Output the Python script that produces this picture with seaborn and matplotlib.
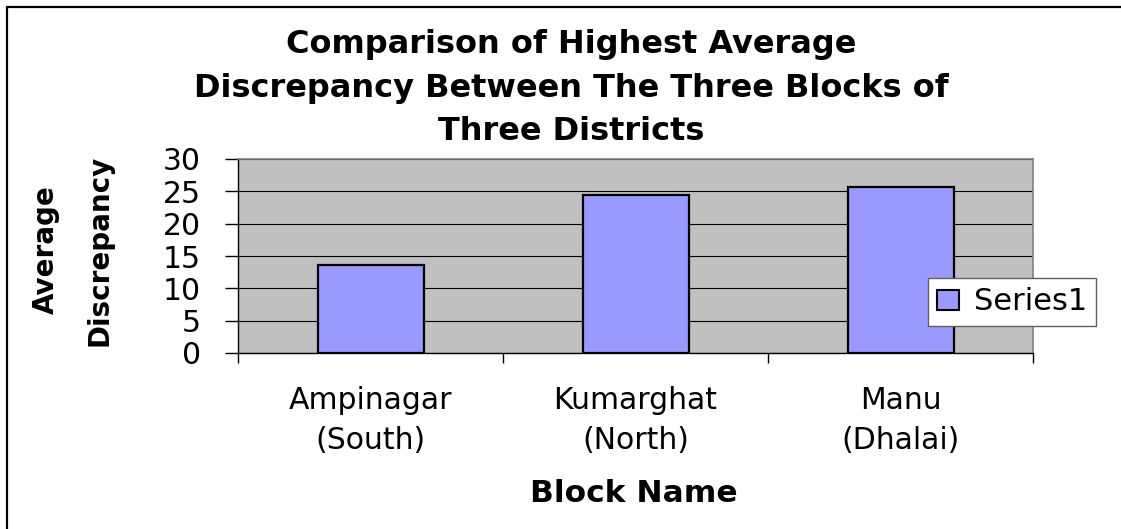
import matplotlib
matplotlib.use("Agg")
import matplotlib.pyplot as plt
import seaborn as sns
import pandas as pd
from matplotlib.patches import Patch
from matplotlib.lines import Line2D

categories = ["Ampinagar\n(South)", "Kumarghat\n(North)", "Manu\n(Dhalai)"]
values = [13.6, 24.4, 25.6]
series_name = "Series1"
yticks = [0, 5, 10, 15, 20, 25, 30]

sns.set_theme(style="white")
plt.rcParams['font.family'] = ['DejaVu Sans']
plt.rcParams['text.color'] = 'black'
plt.rcParams['xtick.color'] = 'black'
plt.rcParams['ytick.color'] = 'black'
plt.rcParams['axes.labelcolor'] = 'black'

df = pd.DataFrame({"Block": categories, "Value": values})

W, H = 1121, 529
fig = plt.figure(figsize=(W / 100, H / 100), dpi=100)
ax = fig.add_axes([238 / W, 1 - 353 / H, (1033 - 238) / W, (353 - 159) / H])
ax.set_facecolor("#C0C0C0")

sns.barplot(data=df, x="Block", y="Value", ax=ax, color="#9999FF",
            saturation=1, width=0.4, edgecolor="black", linewidth=1.6, zorder=3)

ax.set_ylim(0, 30)
ax.set_xlim(-0.5, len(categories) - 0.5)
ax.set_yticks(yticks)
ax.yaxis.grid(True, color="black", linewidth=0.8, zorder=1)
ax.set_axisbelow(True)

for s in ["top", "right"]:
    ax.spines[s].set_color("#808080")
    ax.spines[s].set_linewidth(1.2)
for s in ["left", "bottom"]:
    ax.spines[s].set_color("black")
    ax.spines[s].set_linewidth(1.0)

ax.tick_params(axis="y", which="major", direction="out", length=9.5, width=1,
               color="black", left=True, labelsize=21.5, pad=17)
ax.set_xticks(range(len(categories)))
ax.set_xticklabels(categories, fontsize=21.5, linespacing=1.45)
ax.set_xticks([i - 0.5 for i in range(len(categories) + 1)], minor=True)
ax.tick_params(axis="x", which="major", length=0, pad=24)
ax.tick_params(axis="x", which="minor", direction="out", length=7.5, width=1,
               color="black", bottom=True)

ax.set_xlabel("")
ax.set_ylabel("")

title_lines = ["Comparison of Highest Average",
               "Discrepancy Between The Three Blocks of",
               "Three Districts"]
for yc, line in zip([44, 89, 131], title_lines):
    fig.text(571 / W, 1 - yc / H, line, ha="center", va="center",
             fontsize=23, fontweight="bold")

fig.text(634 / W, 1 - 493 / H, "Block Name", ha="center", va="center",
         fontsize=22.5, fontweight="bold")
fig.text(46 / W, 1 - 250 / H, "Average", ha="center", va="center",
         rotation=90, fontsize=20, fontweight="bold")
fig.text(100 / W, 1 - 250 / H, "Discrepancy", ha="center", va="center",
         rotation=90, fontsize=20, fontweight="bold")

handles = [Patch(facecolor="#9999FF", edgecolor="black", linewidth=1.5, label=series_name)]
leg = fig.legend(handles=handles, loc="center left",
                 bbox_to_anchor=(928 / W, 1 - 302 / H), frameon=True, fancybox=False,
                 fontsize=22, handlelength=0.7, handleheight=0.65, handletextpad=0.5,
                 borderpad=0.3, borderaxespad=0)
leg.get_frame().set_edgecolor("#606060")
leg.get_frame().set_linewidth(1.0)
leg.get_frame().set_facecolor("white")
leg.get_frame().set_alpha(1)

# outer chart border (top and left visible)
fig.add_artist(Line2D([7 / W, 7 / W], [0, 1 - 7 / H], color="black", linewidth=1.6,
                      transform=fig.transFigure))
fig.add_artist(Line2D([7 / W, 1], [1 - 7 / H, 1 - 7 / H], color="black", linewidth=1.6,
                      transform=fig.transFigure))

fig.savefig("out.png", dpi=100)
